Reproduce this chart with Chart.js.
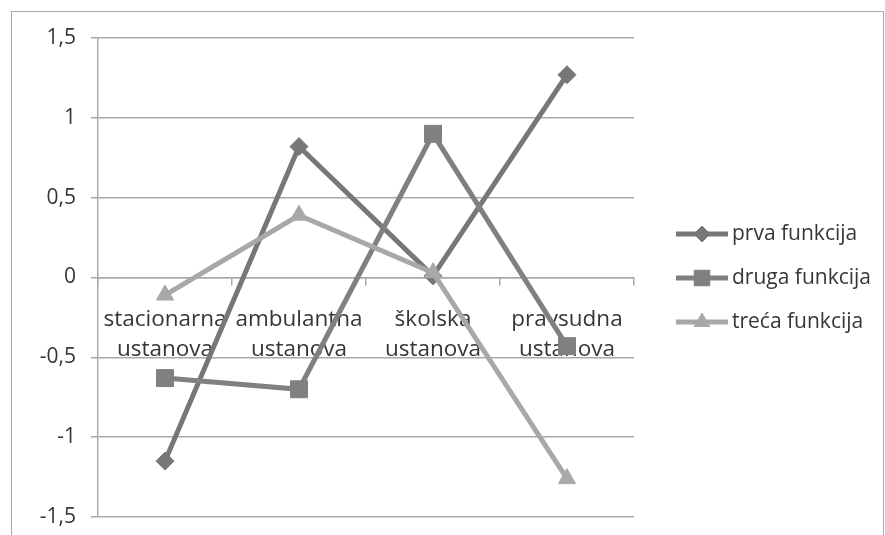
<!DOCTYPE html>
<html>
<head>
<meta charset="utf-8">
<script src="https://cdn.jsdelivr.net/npm/chart.js@4"></script>
<style>
  html, body { margin: 0; padding: 0; background: #fff; overflow: hidden; }
  #wrap { position: relative; width: 885px; height: 535px; }
  #frame { position: absolute; left: 11px; top: 11px; width: 871px; height: 600px; border: 1.5px solid #a9a9a9; }
  canvas { position: absolute; left: 0; top: 0; }
</style>
</head>
<body>
<div id="wrap">
  <div id="frame"></div>
  <canvas id="chart" width="885" height="535"></canvas>
</div>
<script>
// kategorije i vrijednosti
const categories = [
  ['stacionarna', 'ustanova'],
  ['ambulantna', 'ustanova'],
  ['školska', 'ustanova'],
  ['pravsudna', 'ustanova']
];
const seriesNames = ['prva funkcija', 'druga funkcija', 'treća funkcija'];
const prva = [-1.15, 0.82, 0.01, 1.27];
const druga = [-0.63, -0.70, 0.90, -0.43];
const treca = [-0.11, 0.39, 0.03, -1.26];
const yTicks = [-1.5, -1, -0.5, 0, 0.5, 1, 1.5];

const FONT = '"Open Sans", "DejaVu Sans", sans-serif';
const GRID = '#a9a9a9';
const TEXT = '#363636';

const styles = [
  { color: '#777777', point: 'rectRot', radius: 9, legendRadius: 8 },
  { color: '#808080', point: 'rect', radius: 12, legendRadius: 11 },
  { color: '#a8a8a8', point: 'triangle', radius: 10, legendRadius: 9 }
];

// legenda sa linijom i markerom
const legendPlugin = {
  id: 'lineLegend',
  afterDraw(chart) {
    const ctx = chart.ctx;
    const rows = [234, 278, 322];
    chart.data.datasets.forEach((ds, i) => {
      const y = rows[i];
      const st = styles[i];
      ctx.save();
      ctx.strokeStyle = st.color;
      ctx.lineWidth = 5;
      ctx.beginPath();
      ctx.moveTo(676, y);
      ctx.lineTo(728, y);
      ctx.stroke();
      ctx.fillStyle = st.color;
      ctx.strokeStyle = st.color;
      ctx.lineWidth = 1;
      Chart.helpers.drawPoint(ctx, { pointStyle: st.point, radius: st.legendRadius, rotation: 0, borderWidth: 1 }, 702, y);
      ctx.fillStyle = TEXT;
      ctx.font = '21px ' + FONT;
      ctx.textBaseline = 'middle';
      ctx.textAlign = 'left';
      ctx.fillText(ds.label, 732, y);
      ctx.restore();
    });
  }
};

const values = [prva, druga, treca];
const datasets = values.map((v, i) => ({
  label: seriesNames[i],
  data: v,
  borderColor: styles[i].color,
  backgroundColor: styles[i].color,
  borderWidth: 5,
  pointStyle: styles[i].point,
  pointRadius: styles[i].radius,
  pointHoverRadius: styles[i].radius,
  pointBackgroundColor: styles[i].color,
  pointBorderColor: styles[i].color,
  pointBorderWidth: 1,
  tension: 0,
  order: 3 - i
}));

new Chart(document.getElementById('chart').getContext('2d'), {
  type: 'line',
  data: { labels: categories, datasets: datasets },
  options: {
    responsive: false,
    animation: false,
    layout: { padding: { left: 0, top: 38, right: 251, bottom: 18 } },
    plugins: { legend: { display: false }, tooltip: { enabled: false } },
    scales: {
      x: {
        type: 'category',
        position: { y: 0 },
        offset: true,
        afterFit(scale) {
          scale.height = 0;
          scale.paddingLeft = 0; scale.paddingRight = 0;
          scale.paddingTop = 0; scale.paddingBottom = 0;
        },
        grid: { offset: true, drawOnChartArea: false, drawTicks: true, tickLength: 7, color: GRID, lineWidth: 1.5 },
        border: { display: true, color: GRID, width: 1.5 },
        ticks: { color: TEXT, padding: 20, maxRotation: 0, autoSkip: false,
                 font: { family: FONT, size: 22.5, lineHeight: 1.33 } }
      },
      y: {
        min: -1.5,
        max: 1.5,
        afterFit(scale) {
          scale.width = 98;
          scale.paddingTop = 0; scale.paddingBottom = 0;
        },
        afterBuildTicks(scale) { scale.ticks = yTicks.map(v => ({ value: v })); },
        grid: { color: GRID, lineWidth: 1.5, tickLength: 7 },
        border: { display: true, color: GRID, width: 1.5 },
        ticks: {
          color: TEXT, padding: 15,
          font: { family: FONT, size: 21 },
          callback: v => String(v).replace('.', ',')
        }
      }
    }
  },
  plugins: [legendPlugin]
});
</script>
</body>
</html>
